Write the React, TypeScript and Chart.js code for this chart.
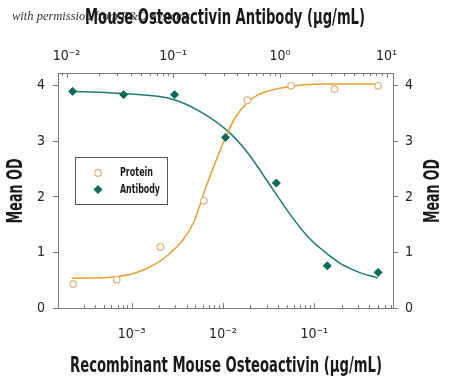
import React, { useEffect, useRef } from 'react';
import { Chart, registerables } from 'chart.js';
import { drawPoint } from 'chart.js/helpers';

Chart.register(...registerables);

// Measured points
const proteinConc = [0.000229, 0.000686, 0.00206, 0.00617, 0.0185, 0.0556, 0.1667, 0.5];
const proteinOD = [0.43, 0.51, 1.10, 1.93, 3.74, 4.00, 3.94, 4.00];
const antibodyConc = [0.0114, 0.0343, 0.103, 0.309, 0.926, 2.78, 8.33];
const antibodyOD = [3.90, 3.84, 3.84, 3.07, 2.25, 0.76, 0.64];

// Fitted curves
const proteinFitConc = [0.000223, 0.000673, 0.00134, 0.00263, 0.00473, 0.00635, 0.0110, 0.01353, 0.01832, 0.0244, 0.0565, 0.1309, 0.494];
const proteinFitOD = [0.535, 0.564, 0.685, 0.986, 1.526, 2.13, 3.12, 3.42, 3.69, 3.84, 3.99, 4.03, 4.03];
const antibodyFitConc = [0.01128, 0.0339, 0.1019, 0.1775, 0.327, 0.486, 0.863, 1.285, 1.838, 2.634, 3.777, 5.40, 8.22];
const antibodyFitOD = [3.90, 3.86, 3.75, 3.54, 3.18, 2.82, 2.13, 1.65, 1.28, 1.01, 0.79, 0.65, 0.54];

// Axis ranges and labels
const bottomRange = [0.000156, 0.728];
const topRange = [0.00832, 11.48];
const yRange = [0, 4.23];
const seriesLabels = ['Protein', 'Antibody'];
const bottomTitle = 'Recombinant Mouse Osteoactivin (\u03bcg/mL)';
const topTitle = 'Mouse Osteoactivin Antibody (\u03bcg/mL)';
const yTitle = 'Mean OD';
const watermark = 'with permission from R&D Systems';

const ORANGE = '#E3A232';
const ORANGE_PT = '#D9B47C';
const TEAL = '#1F7A72';
const TEAL_PT = '#0C6A58';
const AXIS = '#7a7a7a';
const FONT = '"Liberation Sans Narrow", "DejaVu Sans Condensed", "Open Sans", sans-serif';

const SUP: Record<string, string> = { '-': '\u207b', '0': '\u2070', '1': '\u00b9', '2': '\u00b2', '3': '\u00b3', '4': '\u2074', '5': '\u2075', '6': '\u2076', '7': '\u2077', '8': '\u2078', '9': '\u2079' };
const powLabel = (v: number) => {
  const l = Math.log10(v);
  if (Math.abs(l - Math.round(l)) > 1e-6) return '';
  return '10' + String(Math.round(l)).split('').map((c) => SUP[c] || c).join('');
};

const pts = (xs: number[], ys: number[]) => xs.map((x, i) => ({ x, y: ys[i] }));

const decorPlugin = {
  id: 'decor',
  beforeDraw(chart: any) {
    const ctx = chart.ctx;
    ctx.save();
    ctx.fillStyle = '#ffffff';
    ctx.fillRect(0, 0, chart.width, chart.height);
    ctx.fillStyle = '#333';
    ctx.font = 'italic 12.5px "Liberation Serif", "DejaVu Serif", serif';
    ctx.textBaseline = 'middle';
    ctx.textAlign = 'left';
    ctx.fillText(watermark, 12, 17);
    ctx.restore();
  },
  afterDraw(chart: any) {
    const ctx = chart.ctx;
    const area = chart.chartArea;
    ctx.save();
    // inward minor/major ticks on log axes
    ctx.strokeStyle = AXIS;
    ctx.lineWidth = 1;
    for (const id of ['x', 'x2']) {
      const s = chart.scales[id];
      for (const t of s.ticks) {
        const v = t.value;
        const e = Math.floor(Math.log10(v) + 1e-9);
        const m = v / Math.pow(10, e);
        if (Math.abs(m - Math.round(m)) > 1e-6) continue;
        const px = Math.round(s.getPixelForValue(v)) + 0.5;
        if (px < area.left + 1 || px > area.right - 1) continue;
        const len = Math.round(m) === 1 ? 5 : 3;
        ctx.beginPath();
        if (id === 'x') {
          ctx.moveTo(px, area.bottom);
          ctx.lineTo(px, area.bottom - len);
        } else {
          ctx.moveTo(px, area.top);
          ctx.lineTo(px, area.top + len);
        }
        ctx.stroke();
      }
    }
    // titles
    ctx.fillStyle = '#1a1a1a';
    ctx.textAlign = 'center';
    ctx.textBaseline = 'middle';
    ctx.font = 'bold 21px ' + FONT;
    ctx.fillText(topTitle, 225, 19, 280);
    ctx.fillText(bottomTitle, 226, 367, 312);
    ctx.save();
    ctx.translate(17, 191);
    ctx.rotate(-Math.PI / 2);
    ctx.fillText(yTitle, 0, 0, 65);
    ctx.restore();
    ctx.save();
    ctx.translate(434, 191);
    ctx.rotate(-Math.PI / 2);
    ctx.fillText(yTitle, 0, 0, 64);
    ctx.restore();
    // legend box
    const lx = 75.5, ly = 157.5, lw = 92, lh = 47;
    ctx.strokeStyle = '#555';
    ctx.lineWidth = 1;
    ctx.strokeRect(lx, ly, lw, lh);
    ctx.font = 'bold 13px ' + FONT;
    ctx.textAlign = 'left';
    for (let i = 0; i < 2; i++) {
      const ds = chart.data.datasets[i];
      const cy = ly + 15.5 + i * 16.5;
      ctx.strokeStyle = ds.pointBorderColor;
      ctx.fillStyle = ds.pointBackgroundColor;
      ctx.lineWidth = ds.pointBorderWidth;
      drawPoint(ctx, { pointStyle: ds.pointStyle, radius: ds.pointRadius, borderWidth: ds.pointBorderWidth, rotation: 0 }, 98, cy);
      ctx.fillStyle = '#1a1a1a';
      ctx.fillText(ds.label, 120, cy, i === 0 ? 33 : 40);
    }
    ctx.restore();
  },
};

export default function App() {
  const ref = useRef<HTMLCanvasElement | null>(null);
  useEffect(() => {
    if (!ref.current) return;
    const tickFont = { family: FONT, size: 14 };
    const chart = new Chart(ref.current, {
      type: 'scatter',
      data: {
        datasets: [
          {
            label: seriesLabels[0],
            data: pts(proteinConc, proteinOD),
            xAxisID: 'x',
            yAxisID: 'y',
            pointStyle: 'circle',
            pointRadius: 3.3,
            pointBorderWidth: 1.2,
            pointBorderColor: ORANGE_PT,
            pointBackgroundColor: '#ffffff',
            showLine: false,
          },
          {
            label: seriesLabels[1],
            data: pts(antibodyConc, antibodyOD),
            xAxisID: 'x2',
            yAxisID: 'y',
            pointStyle: 'rectRot',
            pointRadius: 4,
            pointBorderWidth: 1,
            pointBorderColor: TEAL_PT,
            pointBackgroundColor: TEAL_PT,
            showLine: false,
          },
          {
            label: 'Protein fit',
            data: pts(proteinFitConc, proteinFitOD),
            xAxisID: 'x',
            yAxisID: 'y',
            showLine: true,
            borderColor: ORANGE,
            borderWidth: 1.5,
            pointRadius: 0,
            cubicInterpolationMode: 'monotone',
          },
          {
            label: 'Antibody fit',
            data: pts(antibodyFitConc, antibodyFitOD),
            xAxisID: 'x2',
            yAxisID: 'y',
            showLine: true,
            borderColor: TEAL,
            borderWidth: 1.5,
            pointRadius: 0,
            cubicInterpolationMode: 'monotone',
          },
        ],
      } as any,
      options: {
        responsive: false,
        animation: false,
        devicePixelRatio: 1,
        layout: { padding: 0 },
        plugins: { legend: { display: false }, tooltip: { enabled: false } },
        scales: {
          x: {
            type: 'logarithmic',
            position: 'bottom',
            min: bottomRange[0],
            max: bottomRange[1],
            grid: { display: false },
            border: { display: true, color: AXIS, width: 1 },
            ticks: { callback: (v: any) => powLabel(Number(v)), autoSkip: false, maxRotation: 0, padding: 10, font: tickFont, color: '#222' },
            afterFit: (s: any) => { s.height = 74; },
          },
          x2: {
            type: 'logarithmic',
            position: 'top',
            min: topRange[0],
            max: topRange[1],
            grid: { display: false },
            border: { display: true, color: AXIS, width: 1 },
            ticks: { callback: (v: any) => powLabel(Number(v)), autoSkip: false, maxRotation: 0, padding: 0, font: tickFont, color: '#222' },
            afterFit: (s: any) => { s.height = 73; },
          },
          y: {
            position: 'left',
            min: yRange[0],
            max: yRange[1],
            grid: { drawOnChartArea: false, drawTicks: true, tickLength: 5, color: AXIS },
            border: { display: true, color: AXIS, width: 1 },
            ticks: { stepSize: 1, includeBounds: false, padding: 8, font: tickFont, color: '#222' },
            afterFit: (s: any) => { s.width = 58; },
          },
          y2: {
            position: 'right',
            min: yRange[0],
            max: yRange[1],
            grid: { drawOnChartArea: false, drawTicks: true, tickLength: 5, color: AXIS },
            border: { display: true, color: AXIS, width: 1 },
            ticks: { stepSize: 1, includeBounds: false, padding: 7, font: tickFont, color: '#222' },
            afterFit: (s: any) => { s.width = 57; },
          },
        },
      } as any,
      plugins: [decorPlugin],
    });
    return () => chart.destroy();
  }, []);
  return (
    <div style={{ position: 'absolute', left: 0, top: 0, width: 450, height: 382 }}>
      <canvas ref={ref} width={450} height={382} style={{ display: 'block' }} />
    </div>
  );
}
